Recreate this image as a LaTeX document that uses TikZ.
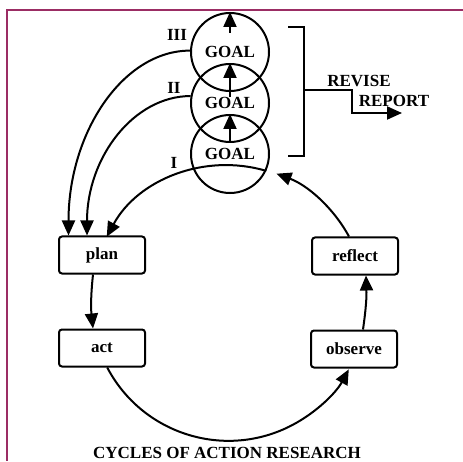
\documentclass[tikz,border=0pt]{standalone}
\usepackage{fontspec}
\setmainfont{Liberation Serif}
\usepackage{tikz}
\usetikzlibrary{arrows.meta}
\usetikzlibrary{calc}

\definecolor{framemaroon}{RGB}{155,45,100}

\tikzset{
  goalcircle/.style={draw, circle, minimum size=78pt, inner sep=0pt, font=\bfseries\fontsize{17}{19}\selectfont},
  stagebox/.style={draw, rounded corners=3pt, minimum width=86pt, minimum height=37pt, inner sep=0pt, font=\bfseries\fontsize{17}{19}\selectfont},
  bigtip/.style={-{Triangle[length=15pt, width=13pt]}},
  lbl/.style={font=\bfseries\fontsize{17}{19}\selectfont, inner sep=0pt}
}

\begin{document}
\begin{tikzpicture}[x=1pt, y=1pt, line width=2pt]
        \useasboundingbox (0,0) rectangle (463,461);
        % Draw the frame
        \draw[framemaroon, line width=2pt] (463,451) -- (7,451) -- (7,0);
        % Draw the goal circles
        \node[goalcircle] (g1) at (230,307) {GOAL};
        \node[goalcircle] (g2) at (230,358) {GOAL};
        \node[goalcircle] (g3) at (230,409) {GOAL};
        % Draw the arrows inside the goals
        \foreach \g/\off in {g1/11, g2/6, g3/19}{
            \draw[bigtip] ($(\g.center)+(0,\off)$) -- (\g.north);
        }
        % Draw the cycle labels
        \node[lbl] (lIII) at (177,426) {III};
        \node[lbl] (lII) at (174,373) {II};
        \node[lbl] (lI) at (174,298) {I};
        % Draw the stages
        \node[stagebox] (plan) at (102,206) {plan};
        \node[stagebox] (act) at (102,113) {act};
        \node[stagebox] (reflect) at (355,205) {reflect};
        \node[stagebox] (observe) at (354,112) {observe};
        % Draw the cycle
        \draw[bigtip] ([xshift=-9pt]plan.south) to[bend right=6] ([xshift=-9pt]act.north);
        \draw[bigtip] (act.-75) arc[start angle=207.7, end angle=331.4, radius=137pt];
        \draw[bigtip] ([xshift=9pt]observe.north) to[bend right=5] ([xshift=11pt]reflect.south);
        \draw[bigtip] ([xshift=-6pt]reflect.north) arc[start angle=28.6, end angle=69.6, radius=137pt];
        \draw[bigtip] (g1.-25) arc[start angle=73.4, end angle=151.5, radius=137pt];
        % Draw the later cycles back to plan
        \draw[bigtip] (g2.170) .. controls +(-57,0) and +(0,78) .. ([xshift=29pt]plan.north west);
        \draw[bigtip] (g3.178) .. controls +(-67,0) and +(0,103) .. ([xshift=10.5pt]plan.north west);
        % Draw the bracket and the report arrow
        \coordinate (brtop) at (288,434);
        \coordinate (brbot) at (288,305);
        \coordinate (brmid) at (304,371);
        \coordinate (repend) at (402,348);
        \draw (brtop) -- (304,434) -- (304,305) -- (brbot);
        \draw[bigtip] (brmid) -- (352,371) -- (352,348) -- (repend);
        \node[lbl] (revise) at (359,380) {REVISE};
        \node[lbl] (report) at (394,360) {REPORT};
        % Draw the caption
        \node[lbl, anchor=base] (caption) at (227,3) {CYCLES OF ACTION RESEARCH};
    \end{tikzpicture}
\end{document}
